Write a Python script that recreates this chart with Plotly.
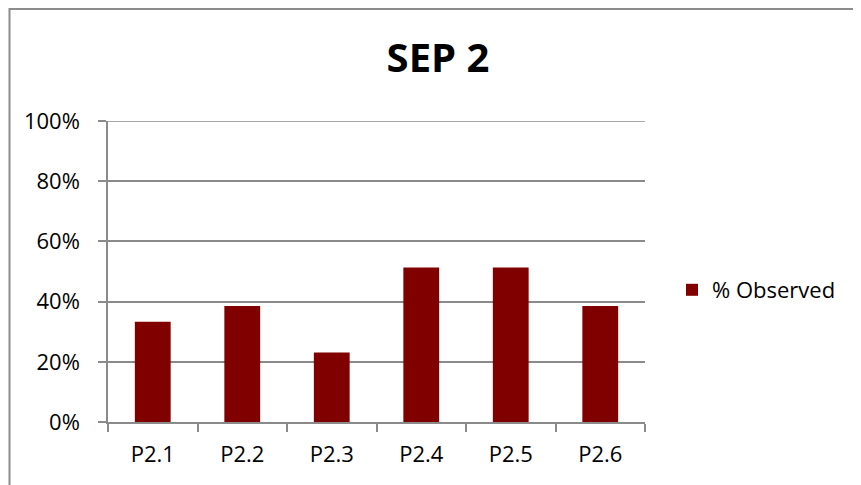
import plotly.graph_objects as go

categories = ["P2.1", "P2.2", "P2.3", "P2.4", "P2.5", "P2.6"]
observed = [33.3, 38.5, 23.1, 51.3, 51.3, 38.5]
y_ticks = [0, 20, 40, 60, 80, 100]
y_tick_labels = ["0%", "20%", "40%", "60%", "80%", "100%"]
series_name = "% Observed"
title_text = "SEP 2"

W, H = 861, 485
OFF = 8  # page body margin offset
L, R, T, B = 108 - OFF, 645 - OFF, 121 - OFF, 422 - OFF

fig = go.Figure()
fig.add_trace(go.Bar(
    x=categories, y=observed, name=series_name,
    marker=dict(color="#800000", line=dict(width=0)),
    showlegend=True,
))

FONT = "Open Sans"
GRID = "#8a8a8a"

fig.update_layout(
    width=W, height=H,
    margin=dict(l=L, r=W - R, t=T, b=H - B, autoexpand=False),
    paper_bgcolor="white", plot_bgcolor="white",
    bargap=0.6,
    showlegend=True,
    title=dict(text="<b>" + title_text + "</b>", x=(438 - OFF) / W, xanchor="center",
               y=1 - (58 - OFF) / H, yanchor="middle",
               font=dict(family=FONT, size=40, color="black")),
    legend=dict(x=(672 - OFF - L) / (R - L), xanchor="left",
                y=(B - (290 - OFF)) / (B - T), yanchor="middle",
                font=dict(family=FONT, size=22, color="black"),
                bgcolor="rgba(0,0,0,0)", itemwidth=30),
    font=dict(family=FONT, size=22, color="black"),
)

fig.update_xaxes(
    type="category", showgrid=False, showline=True, linecolor=GRID, linewidth=1.5,
    ticks="outside", tickson="boundaries", ticklen=8, tickcolor=GRID, tickwidth=1.5,
    ticklabelstandoff=12,
    tickfont=dict(family=FONT, size=22, color="black"), zeroline=False,
)
fig.update_yaxes(
    range=[0, 100], tickvals=y_ticks, ticktext=y_tick_labels,
    showgrid=True, gridcolor=GRID, gridwidth=1.5,
    showline=True, linecolor=GRID, linewidth=1.5,
    ticks="outside", ticklen=8, tickcolor=GRID, tickwidth=1.5,
    ticklabelstandoff=14,
    tickfont=dict(family=FONT, size=22, color="black"), zeroline=False,
)

# top gridline at the range edge (plotly omits it)
fig.add_shape(type="line", xref="paper", yref="y", x0=0, x1=1,
              y0=y_ticks[-1], y1=y_ticks[-1], line=dict(color=GRID, width=1.5), layer="below")

# outer chart border
pw, ph = R - L, B - T
fig.add_shape(type="rect", xref="paper", yref="paper",
              x0=(1.5 - L) / pw, x1=(W + 10 - L) / pw,
              y0=(B - (H + 10)) / ph, y1=(B - (9 - OFF)) / ph,
              line=dict(color="#8c8c8c", width=2), fillcolor="rgba(0,0,0,0)", layer="below")

fig.write_html("out.html")
